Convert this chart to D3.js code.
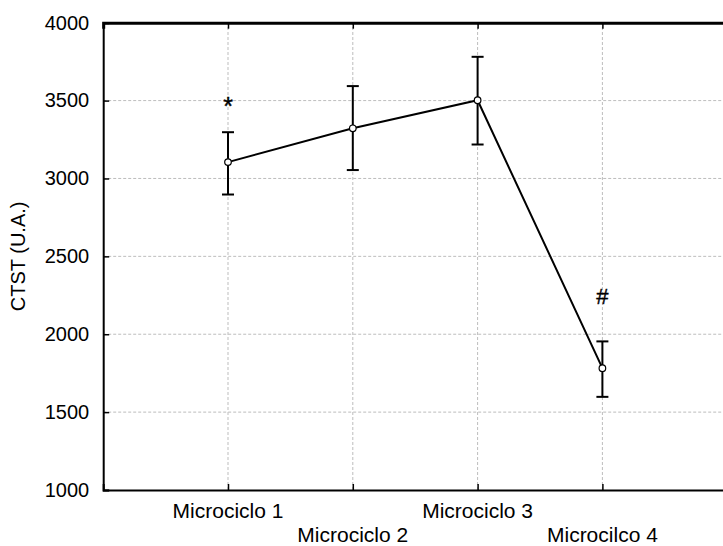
<!DOCTYPE html>
<html><head><meta charset="utf-8">
<script src="https://cdn.jsdelivr.net/npm/d3@7"></script>
<style>body{margin:0;background:#fff}svg{display:block}text{font-family:"Liberation Sans",Arial,sans-serif}</style>
</head><body>
<svg id="c" width="723" height="546"></svg>
<script>
const categories = ["Microciclo 1","Microciclo 2","Microciclo 3","Microcilco 4"];
const means = [3105, 3322, 3502, 1782];
const upper = [3297, 3593, 3781, 1954];
const lower = [2897, 3054, 3218, 1598];
const marks = ["*", "", "", "#"];
const markValues = [3500, null, null, 2250];
const yTicks = [1000,1500,2000,2500,3000,3500,4000];

const svg = d3.select("#c");
const x = d3.scaleLinear().domain([0,5]).range([103.2, 727.2]);
const y = d3.scaleLinear().domain([1000,4000]).range([490, 22.7]);
const xp = i => x(i+1);

// grid
svg.append("g").selectAll("line").data(yTicks.slice(1,-1)).join("line")
  .attr("x1", x(0)).attr("x2", x(5)).attr("y1", d=>y(d)).attr("y2", d=>y(d))
  .attr("stroke","#bdbdbd").attr("stroke-width",1).attr("stroke-dasharray","3,2");
svg.append("g").selectAll("line").data(categories).join("line")
  .attr("x1",(d,i)=>xp(i)).attr("x2",(d,i)=>xp(i)).attr("y1", y(1000)).attr("y2", y(4000))
  .attr("stroke","#bdbdbd").attr("stroke-width",1).attr("stroke-dasharray","3,2");

// axes
const yAxis = d3.axisLeft(y).tickValues(yTicks).tickSize(-6).tickPadding(14).tickFormat(d3.format("d"));
const gy = svg.append("g").attr("transform",`translate(${x(0)},0)`).call(yAxis);
gy.select(".domain").attr("stroke","#000").attr("stroke-width",2);
gy.selectAll(".tick line").attr("stroke","#000").attr("stroke-width",1.5);
gy.selectAll(".tick text").attr("font-size",20).attr("fill","#000").attr("font-family","Liberation Sans, Arial, sans-serif");

const xAxis = d3.axisBottom(x).tickValues([1,2,3,4]).tickSize(-6).tickFormat("");
const gx = svg.append("g").attr("transform",`translate(0,${y(1000)})`).call(xAxis);
gx.select(".domain").attr("stroke","#000").attr("stroke-width",2);
gx.selectAll(".tick line").attr("stroke","#000").attr("stroke-width",1.5);

const xTop = d3.axisTop(x).tickValues([1,2,3,4]).tickSize(-6).tickFormat("");
const gt = svg.append("g").attr("transform",`translate(0,${y(4000)})`).call(xTop);
gt.select(".domain").attr("stroke","#000").attr("stroke-width",3);
gt.selectAll(".tick line").attr("stroke","#000").attr("stroke-width",1.5);

// x labels staggered
svg.append("g").selectAll("text").data(categories).join("text")
  .attr("x",(d,i)=>xp(i)).attr("y",(d,i)=> i%2===0 ? 518 : 542)
  .attr("text-anchor","middle").attr("font-size",21).attr("fill","#000").text(d=>d);

// y label
svg.append("text").attr("transform",`translate(24.5,${(y(1000)+y(4000))/2}) rotate(-90)`)
  .attr("text-anchor","middle").attr("font-size",20).attr("fill","#000").text("CTST (U.A.)");

// error bars
const eb = svg.append("g");
categories.forEach((c,i)=>{
  eb.append("line").attr("x1",xp(i)).attr("x2",xp(i)).attr("y1",y(lower[i])).attr("y2",y(upper[i]))
    .attr("stroke","#000").attr("stroke-width",2);
  [lower[i],upper[i]].forEach(v=>{
    eb.append("line").attr("x1",xp(i)-6).attr("x2",xp(i)+6).attr("y1",y(v)).attr("y2",y(v))
      .attr("stroke","#000").attr("stroke-width",2);
  });
});

// line
svg.append("path").datum(means)
  .attr("d", d3.line().x((d,i)=>xp(i)).y(d=>y(d)))
  .attr("fill","none").attr("stroke","#000").attr("stroke-width",2);

svg.append("g").selectAll("circle").data(means).join("circle")
  .attr("cx",(d,i)=>xp(i)).attr("cy",d=>y(d)).attr("r",3.3)
  .attr("fill","#fff").attr("stroke","#000").attr("stroke-width",1.2);

// annotations
const ann = marks.map((m,i)=>({m, i, v: markValues[i]})).filter(d=>d.m!=="");
svg.append("g").selectAll("text").data(ann).join("text")
  .attr("x",d=>xp(d.i)).attr("y",d=> d.m==="*" ? y(d.v)+14 : y(d.v)+9)
  .attr("text-anchor","middle")
  .attr("font-size",d=> d.m==="*" ? 25 : 22).attr("fill","#000")
  .attr("stroke","#000").attr("stroke-width",0.4).text(d=>d.m);
</script>
</body></html>
